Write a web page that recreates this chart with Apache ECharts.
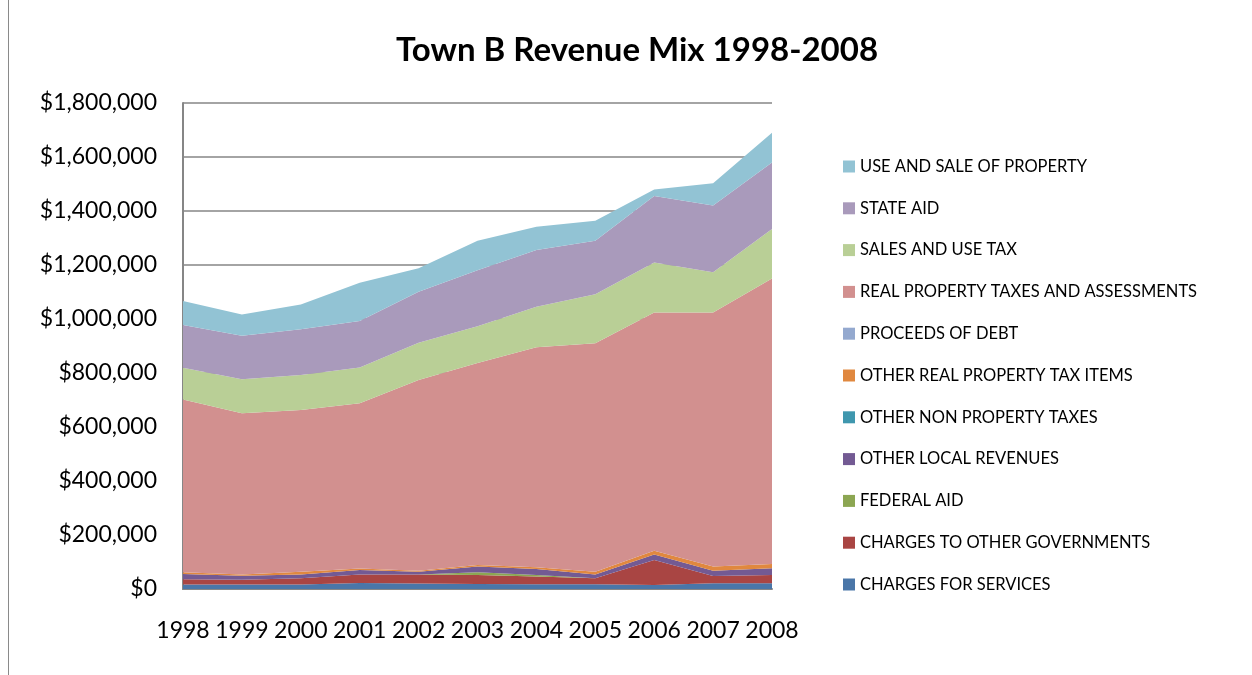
<!DOCTYPE html>
<html>
<head>
<meta charset="utf-8">
<title>Town B Revenue Mix 1998-2008</title>
<script src="https://cdn.jsdelivr.net/npm/echarts@6/dist/echarts.min.js"></script>
<style>
  html, body { margin: 0; padding: 0; background: #fff; }
  #frame { position: absolute; left: 8px; top: 0; width: 1244px; height: 675px; border-left: 1px solid #8a8a8a; }
  #chart { position: absolute; left: 0; top: 0; width: 1252px; height: 675px; }
</style>
</head>
<body>
<div id="frame"></div>
<div id="chart"></div>
<script>
// 연도
var years = ['1998', '1999', '2000', '2001', '2002', '2003', '2004', '2005', '2006', '2007', '2008'];

// 항목별 수입 (아래에서 위로 쌓이는 순서)
var chargesForServices = [17000, 17000, 17000, 22000, 20000, 18500, 18000, 18000, 15000, 21000, 21000];
var chargesToOtherGov = [19000, 17600, 23000, 32000, 34000, 33500, 28000, 22000, 92000, 27000, 31000];
var federalAid = [0, 0, 0, 0, 0, 10000, 6000, 0, 0, 0, 0];
var otherLocalRevenues = [19600, 14400, 14000, 16000, 10000, 21000, 22000, 14000, 21000, 20000, 25000];
var otherNonPropertyTaxes = [0, 0, 0, 0, 0, 0, 0, 0, 0, 0, 0];
var otherRealPropertyTaxItems = [6000, 5000, 10000, 6000, 4000, 6000, 7000, 10000, 14000, 15000, 16000];
var proceedsOfDebt = [0, 0, 0, 0, 0, 0, 0, 0, 0, 0, 0];
var realPropertyTaxes = [640000, 597000, 599000, 612000, 706000, 748000, 814000, 846000, 882000, 941000, 1057000];
var salesAndUseTax = [118000, 126000, 130000, 132000, 138000, 136000, 150000, 182000, 185000, 149000, 183000];
var stateAid = [158000, 161000, 169000, 173000, 189000, 208000, 211000, 198000, 247000, 247000, 247000];
var useAndSaleOfProperty = [89000, 79000, 92000, 141000, 87000, 109000, 86000, 74000, 24000, 83000, 110000];

var seriesNames = [
    'CHARGES FOR SERVICES',
    'CHARGES TO OTHER GOVERNMENTS',
    'FEDERAL AID',
    'OTHER LOCAL REVENUES',
    'OTHER NON PROPERTY TAXES',
    'OTHER REAL PROPERTY TAX ITEMS',
    'PROCEEDS OF DEBT',
    'REAL PROPERTY TAXES AND ASSESSMENTS',
    'SALES AND USE TAX',
    'STATE AID',
    'USE AND SALE OF PROPERTY'
];
var seriesData = [
    chargesForServices, chargesToOtherGov, federalAid, otherLocalRevenues,
    otherNonPropertyTaxes, otherRealPropertyTaxItems, proceedsOfDebt,
    realPropertyTaxes, salesAndUseTax, stateAid, useAndSaleOfProperty
];
var seriesColors = [
    '#4a76a8', '#a94543', '#8ca652', '#735a93', '#3f97ae', '#e0883f',
    '#94a9cf', '#d2908f', '#b9cf96', '#a99abb', '#92c3d4'
];

var myChart = echarts.init(document.getElementById('chart'));

var series = [];
for (var i = 0; i < seriesNames.length; i++) {
    series.push({
        name: seriesNames[i],
        type: 'line',
        stack: 'total',
        symbol: 'none',
        color: seriesColors[i],
        lineStyle: { width: 0 },
        areaStyle: { color: seriesColors[i], opacity: 1 },
        data: seriesData[i]
    });
}

var option = {
    animation: false,
    textStyle: { fontFamily: 'Lato' },
    title: {
        text: 'Town B Revenue Mix 1998-2008',
        left: 632,
        top: 29,
        textAlign: 'center',
        textStyle: { fontFamily: 'Lato', fontSize: 33, fontWeight: 'bold', color: '#000' }
    },
    legend: {
        orient: 'vertical',
        left: 838,
        top: 153,
        itemWidth: 12,
        itemHeight: 12,
        itemGap: 24.8,
        icon: 'rect',
        data: seriesNames.slice().reverse(),
        textStyle: { fontFamily: 'Lato', fontSize: 16.5, color: '#000', lineHeight: 16 }
    },
    grid: {
        left: 183,
        right: 480,
        top: 103,
        bottom: 86
    },
    xAxis: {
        type: 'category',
        boundaryGap: false,
        data: years,
        axisLine: { lineStyle: { color: '#868686', width: 2 } },
        axisTick: { show: false },
        axisLabel: { color: '#000', fontSize: 23, margin: 30, interval: 0, fontFamily: 'Lato' }
    },
    yAxis: {
        type: 'value',
        min: 0,
        max: 1800000,
        interval: 200000,
        axisLine: { show: true, lineStyle: { color: '#868686', width: 2 } },
        axisTick: { show: false },
        splitLine: { lineStyle: { color: '#868686', width: 1.5 } },
        axisLabel: {
            color: '#000',
            fontSize: 23,
            margin: 26,
            fontFamily: 'Lato',
            formatter: function (v) { return '$' + v.toLocaleString('en-US'); }
        }
    },
    series: series
};

myChart.setOption(option);

window.addEventListener('resize', function () {
    myChart.resize();
});
</script>
</body>
</html>
